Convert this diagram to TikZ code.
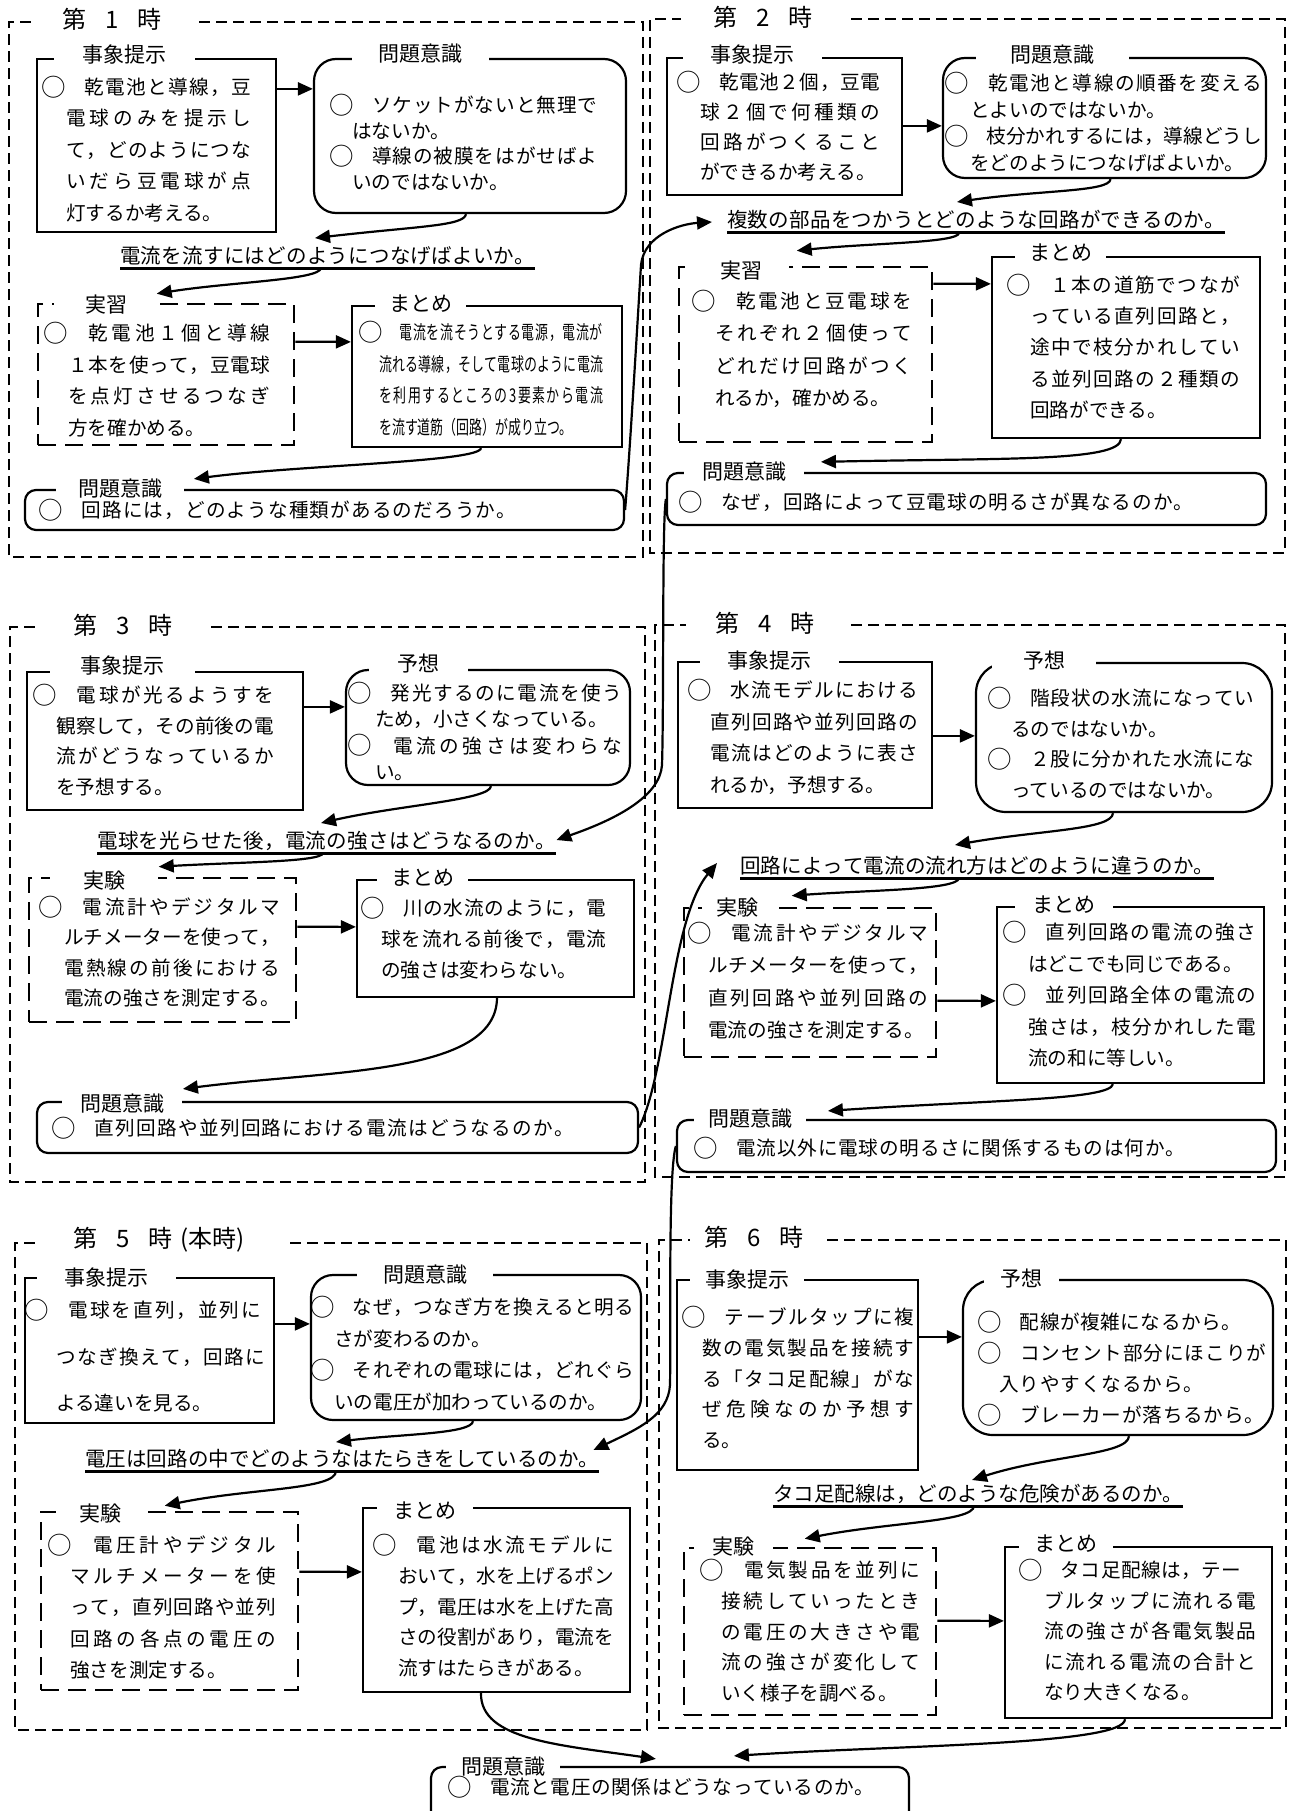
\documentclass[tikz,border=0pt]{standalone}
\usepackage{fontspec}
\setmainfont{Noto Sans CJK JP}
\newfontfamily\condfont[FakeStretch=0.68]{Noto Sans CJK JP}
\usetikzlibrary{arrows.meta,calc,fit}
\makeatletter
\def\sp@end{\sp@end@}
\newcommand\jl[2]{\hbox to #1{\sp@first#2\sp@end}}
\def\sp@first#1{#1\sp@next}
\def\sp@next#1{\ifx\sp@end#1\else\hfil#1\expandafter\sp@next\fi}
\makeatother
\newcommand\LJ[3]{\hbox{\kern#1pt\jl{#2pt}{#3}}}
\newcommand\LN[2]{\hbox{\kern#1pt #2}}
\newcommand\BLK[2]{\vtop{\baselineskip=#1pt\lineskiplimit=-\maxdimen\lineskip=0pt #2}}
\newcommand\cf{\fontsize{19}{24}\condfont}
\newcommand\bul{\makebox[19.6pt][c]{\raisebox{-1.8pt}{\fontsize{24.5}{24}\selectfont ○}}}
\begin{document}
\begin{tikzpicture}[x=1pt,y=-1pt,
 sbox/.style={draw, line width=2.2pt, inner sep=0pt},
 rbox/.style={draw, line width=2.2pt, inner sep=0pt, rounded corners=22pt},
 rboxs/.style={draw, line width=2.2pt, inner sep=0pt, rounded corners=11pt},
 dbox/.style={draw, line width=2.6pt, dash pattern=on 18pt off 9pt, inner sep=0pt},
 pan/.style={line width=2.2pt, dash pattern=on 11pt off 6pt},
 lab/.style={fill=white, inner sep=0pt, minimum height=24pt, font=\fontsize{21}{24}\selectfont},
 txt/.style={inner sep=0pt, anchor=base west, font=\fontsize{19.6}{24}\selectfont},
 qst/.style={inner sep=0pt, anchor=base west, font=\fontsize{20.5}{24}\selectfont},
 ttl/.style={inner sep=0pt, anchor=west, font=\fontsize{24}{28}\selectfont},
 arr/.style={line width=2.2pt, -{Triangle[length=15pt,width=13pt]}},
 ul/.style={line width=3pt}]
\useasboundingbox (0,0) rectangle (1290,1811);

% ---------- panel frames ----------
\draw[pan] (199,22) -- (643,22) -- (643,557) -- (9,557) -- (9,22) -- (35,22);
\draw[pan] (851,19) -- (1285,19) -- (1285,553) -- (650,553) -- (650,19) -- (681,19);
\draw[pan] (211,627) -- (645,627) -- (645,1182) -- (10,1182) -- (10,627) -- (35,627);
\draw[pan] (851,625) -- (1285,625) -- (1285,1177) -- (655,1177) -- (655,625) -- (686,625);
\draw[pan] (290,1243) -- (647,1243) -- (647,1730) -- (15,1730) -- (15,1243) -- (41,1243);
\draw[pan] (827,1240) -- (1286,1240) -- (1286,1728) -- (659,1728) -- (659,1240) -- (690,1240);

\node[ttl] (t1) at (62,19) {第\hspace{.8em}1\hspace{.8em}時};
\node[ttl] (t2) at (713,17) {第\hspace{.8em}2\hspace{.8em}時};
\node[ttl] (t3) at (73,625) {第\hspace{.8em}3\hspace{.8em}時};
\node[ttl] (t4) at (715,623) {第\hspace{.8em}4\hspace{.8em}時};
\node[ttl] (t5) at (73,1240) {第\hspace{.8em}5\hspace{.8em}時\hspace{.3em}(本時)};
\node[ttl] (t6) at (704,1237) {第\hspace{.8em}6\hspace{.8em}時};

% ---------- boxes ----------
\node[sbox, fit={(37,59) (276,232)}] (p1a) {};
\node[rbox, fit={(314,59) (626,213)}] (p1b) {};
\node[dbox, fit={(38,304) (294,445)}] (p1c) {};
\node[sbox, fit={(352,306) (622,447)}] (p1d) {};
\node[rboxs, fit={(25,490) (624,530)}] (p1e) {};

\node[sbox, fit={(667,58) (902,195)}] (p2a) {};
\node[rbox, fit={(943,58) (1266,178)}] (p2b) {};
\node[dbox, fit={(679,267) (932,442)}] (p2c) {};
\node[sbox, fit={(992,257) (1260,438)}] (p2d) {};
\node[rboxs, fit={(667,473) (1266,525)}] (p2e) {};

\node[sbox, fit={(27,672) (303,810)}] (p3a) {};
\node[rbox, fit={(346,670) (630,785)}] (p3b) {};
\node[dbox, fit={(29,878) (296,1022)}] (p3c) {};
\node[sbox, fit={(357,880) (634,997)}] (p3d) {};
\node[rboxs, fit={(37,1102) (638,1153)}] (p3e) {};

\node[sbox, fit={(678,662) (932,808)}] (p4a) {};
\node[rbox, rounded corners=30pt, fit={(976,663) (1272,812)}] (p4b) {};
\node[dbox, fit={(684,908) (936,1057)}] (p4c) {};
\node[sbox, fit={(997,907) (1264,1083)}] (p4d) {};
\node[rboxs, fit={(677,1120) (1276,1172)}] (p4e) {};

\node[sbox, fit={(25,1278) (274,1423)}] (p5a) {};
\node[rbox, fit={(311,1275) (641,1420)}] (p5b) {};
\node[dbox, fit={(41,1512) (298,1690)}] (p5c) {};
\node[sbox, fit={(363,1508) (630,1692)}] (p5d) {};

\node[sbox, fit={(677,1280) (918,1470)}] (p6a) {};
\node[rbox, rounded corners=30pt, fit={(963,1280) (1273,1435)}] (p6b) {};
\node[dbox, fit={(684,1548) (936,1715)}] (p6c) {};
\node[sbox, fit={(1005,1547) (1272,1718)}] (p6d) {};

\node[rboxs, fit={(431,1767) (909,1840)}] (pb) {};

% ---------- labels ----------
\node[lab, minimum width=141pt] (l1a) at (124.5,55) {事象提示};
\node[lab, minimum width=137pt] (l1b) at (420.5,54) {問題意識};
\node[lab, minimum width=104pt] (l1c) at (106,305) {実習};
\node[lab, minimum width=91pt] (l1d) at (420.5,304) {まとめ};
\node[lab, minimum width=128pt] (l1e) at (120,489) {問題意識};

\node[lab, minimum width=139pt] (l2a) at (752.5,55) {事象提示};
\node[lab, minimum width=153pt] (l2b) at (1052.5,55) {問題意識};
\node[lab, minimum width=95pt] (l2c) at (741.5,271) {実習};
\node[lab, minimum width=91pt] (l2d) at (1060.5,253) {まとめ};
\node[lab, minimum width=120pt] (l2e) at (744,472) {問題意識};

\node[lab, minimum width=145pt] (l3a) at (122.5,666) {事象提示};
\node[lab, minimum width=99pt] (l3b) at (418.5,664) {予想};
\node[lab, minimum width=108pt] (l3c) at (104,881) {実験};
\node[lab, minimum width=91pt] (l3d) at (422.5,878) {まとめ};
\node[lab, minimum width=120pt] (l3e) at (122,1104) {問題意識};

\node[lab, minimum width=139pt] (l4a) at (769.5,661) {事象提示};
\node[lab, minimum width=104pt] (l4b) at (1044,661) {予想};
\node[lab, minimum width=71pt] (l4c) at (737.5,908) {実験};
\node[lab, minimum width=98pt] (l4d) at (1064,905) {まとめ};
\node[lab, minimum width=112pt] (l4e) at (750,1119) {問題意識};

\node[lab, minimum width=139pt] (l5a) at (106.5,1277) {事象提示};
\node[lab, minimum width=136pt] (l5b) at (425,1275) {問題意識};
\node[lab, minimum width=89pt] (l5c) at (100.5,1514) {実験};
\node[lab, minimum width=96pt] (l5d) at (425,1511) {まとめ};

\node[lab, minimum width=114pt] (l6a) at (747,1279) {事象提示};
\node[lab, minimum width=75pt] (l6b) at (1021.5,1278) {予想};
\node[lab, minimum width=79pt] (l6c) at (733.5,1547) {実験};
\node[lab, minimum width=94pt] (l6d) at (1066,1544) {まとめ};

\node[lab, minimum width=114pt] (lb) at (503,1767) {問題意識};

% ---------- box texts ----------
\node[txt] (x1a) at (44,94.5) {\BLK{31.5}{%
 \LJ{0}{207}{{\bul　}乾電池と導線，豆}
 \LJ{22}{185}{電球のみを提示し}
 \LJ{22}{185}{て，どのようにつな}
 \LJ{22}{185}{いだら豆電球が点}
 \LN{22}{灯するか考える。}}};
\node[txt] (x1b) at (332,112.5) {\BLK{25.7}{%
 \LJ{0}{265}{{\bul　}ソケットがないと無理で}
 \LN{20}{はないか。}
 \LJ{0}{265}{{\bul　}導線の被膜をはがせばよ}
 \LN{20}{いのではないか。}}};
\node[txt] (x1c) at (46,340.5) {\BLK{31.7}{%
 \LJ{0}{224}{{\bul　}乾電池１個と導線}
 \LJ{22}{202}{１本を使って，豆電球}
 \LJ{22}{202}{を点灯させるつなぎ}
 \LN{22}{方を確かめる。}}};
\node[txt] (x1d) at (361,339.5) {\BLK{31.7}{%
 \hbox{\bul\kern19pt{\cf\jl{203pt}{電流を流そうとする電源，電流が}}}
 \hbox{\kern18pt{\cf\jl{224pt}{流れる導線，そして電球のように電流}}}
 \hbox{\kern18pt{\cf\jl{224pt}{を利用するところの3要素から電流}}}
 \hbox{\kern18pt{\cf を流す道筋（回路）が成り立つ。}}}};
\node[txt] (x1e) at (41,517.5) {\LJ{0}{475}{{\bul　}回路には，どのような種類があるのだろうか。}};

\node[txt] (x2a) at (679,89.5) {\BLK{30}{%
 \LJ{0}{201}{{\bul　}乾電池２個，豆電}
 \LJ{21}{180}{球２個で何種類の}
 \LJ{21}{180}{回路がつくること}
 \LN{21}{ができるか考える。}}};
\node[txt] (x2b) at (947,90.5) {\BLK{26.7}{%
 \LJ{0}{315}{{\bul　}乾電池と導線の順番を変える}
 \LN{23}{とよいのではないか。}
 \LJ{0}{315}{{\bul　}枝分かれするには，導線どうし}
 \LN{23}{をどのようにつなげばよいか。}}};
\node[txt] (x2c) at (694,308.5) {\BLK{32.3}{%
 \LJ{0}{218}{{\bul　}乾電池と豆電球を}
 \LJ{21}{197}{それぞれ２個使って}
 \LJ{21}{197}{どれだけ回路がつく}
 \LN{21}{れるか，確かめる。}}};
\node[txt] (x2d) at (1009,292.5) {\BLK{31.2}{%
 \LJ{0}{231}{{\bul　}１本の道筋でつなが}
 \LJ{21}{210}{っている直列回路と，}
 \LJ{21}{210}{途中で枝分かれしてい}
 \LJ{21}{210}{る並列回路の２種類の}
 \LN{21}{回路ができる。}}};
\node[txt] (x2e) at (681,509.5) {\LJ{0}{512}{{\bul　}なぜ，回路によって豆電球の明るさが異なるのか。}};

\node[txt] (x3a) at (35,702.5) {\BLK{30.7}{%
 \LJ{0}{239}{{\bul　}電球が光るようすを}
 \LJ{21}{218}{観察して，その前後の電}
 \LJ{21}{218}{流がどうなっているか}
 \LN{21}{を予想する。}}};
\node[txt] (x3b) at (350,700.5) {\BLK{26.3}{%
 \LJ{0}{272}{{\bul　}発光するのに電流を使う}
 \LN{25}{ため，小さくなっている。}
 \LJ{0}{272}{{\bul　}電流の強さは変わらな}
 \LN{25}{い。}}};
\node[txt] (x3c) at (41,914.5) {\BLK{30.3}{%
 \LJ{0}{239}{{\bul　}電流計やデジタルマ}
 \LJ{23}{216}{ルチメーターを使って，}
 \LJ{23}{216}{電熱線の前後における}
 \LN{23}{電流の強さを測定する。}}};
\node[txt] (x3d) at (363,915.5) {\BLK{31}{%
 \LJ{0}{243}{{\bul　}川の水流のように，電}
 \LJ{18}{225}{球を流れる前後で，電流}
 \LN{18}{の強さは変わらない。}}};
\node[txt] (x3e) at (54,1135.5) {\LJ{0}{520}{{\bul　}直列回路や並列回路における電流はどうなるのか。}};

\node[txt] (x4a) at (690,697.5) {\BLK{31.7}{%
 \LJ{0}{228}{{\bul　}水流モデルにおける}
 \LJ{20}{208}{直列回路や並列回路の}
 \LJ{20}{208}{電流はどのように表さ}
 \LN{20}{れるか，予想する。}}};
\node[txt] (x4b) at (990,705.5) {\BLK{30.7}{%
 \LJ{0}{264}{{\bul　}階段状の水流になってい}
 \LN{21}{るのではないか。}
 \LJ{0}{264}{{\bul　}２股に分かれた水流にな}
 \LN{21}{っているのではないか。}}};
\node[txt] (x4c) at (690,940.5) {\BLK{32.3}{%
 \LJ{0}{238}{{\bul　}電流計やデジタルマ}
 \LJ{18}{220}{ルチメーターを使って，}
 \LJ{18}{220}{直列回路や並列回路の}
 \LN{18}{電流の強さを測定する。}}};
\node[txt] (x4d) at (1005,939.5) {\BLK{31.5}{%
 \LJ{0}{251}{{\bul　}直列回路の電流の強さ}
 \LN{23}{はどこでも同じである。}
 \LJ{0}{251}{{\bul　}並列回路全体の電流の}
 \LJ{23}{228}{強さは，枝分かれした電}
 \LN{23}{流の和に等しい。}}};
\node[txt] (x4e) at (696,1155.5) {\LJ{0}{489}{{\bul　}電流以外に電球の明るさに関係するものは何か。}};

\node[txt] (x5a) at (27,1317.5) {\BLK{46.5}{%
 \LJ{0}{234}{{\bul　}電球を直列，並列に}
 \LJ{29}{209}{つなぎ換えて，回路に}
 \LN{29}{よる違いを見る。}}};
\node[txt] (x5b) at (313,1314.5) {\BLK{31.7}{%
 \LJ{0}{321}{{\bul　}なぜ，つなぎ方を換えると明る}
 \LN{21}{さが変わるのか。}
 \LJ{0}{321}{{\bul　}それぞれの電球には，どれぐら}
 \LN{21}{いの電圧が加わっているのか。}}};
\node[txt] (x5c) at (50,1552.5) {\BLK{31.2}{%
 \LJ{0}{226}{{\bul　}電圧計やデジタル}
 \LJ{20}{206}{マルチメーターを使}
 \LJ{20}{206}{って，直列回路や並列}
 \LJ{20}{206}{回路の各点の電圧の}
 \LN{20}{強さを測定する。}}};
\node[txt] (x5d) at (375,1552.5) {\BLK{30.75}{%
 \LJ{0}{239}{{\bul　}電池は水流モデルに}
 \LJ{23}{216}{おいて，水を上げるポン}
 \LJ{23}{216}{プ，電圧は水を上げた高}
 \LJ{23}{216}{さの役割があり，電流を}
 \LN{23}{流すはたらきがある。}}};

\node[txt] (x6a) at (684,1324.5) {\BLK{30.75}{%
 \LJ{0}{230}{{\bul　}テーブルタップに複}
 \LJ{18}{212}{数の電気製品を接続す}
 \LJ{18}{212}{る「タコ足配線」がな}
 \LJ{18}{212}{ぜ危険なのか予想す}
 \LN{18}{る。}}};
\node[txt] (x6b) at (980,1329.5) {\BLK{31}{%
 \LJ{0}{261}{{\bul　}配線が複雑になるから。}
 \LJ{0}{286}{{\bul　}コンセント部分にほこりが}
 \LJ{19}{204}{入りやすくなるから。}
 \LJ{0}{284}{{\bul　}ブレーカーが落ちるから。}}};
\node[txt] (x6c) at (702,1577.5) {\BLK{30.75}{%
 \LJ{0}{218}{{\bul　}電気製品を並列に}
 \LJ{19}{199}{接続していったとき}
 \LJ{19}{199}{の電圧の大きさや電}
 \LJ{19}{199}{流の強さが変化して}
 \LN{19}{いく様子を調べる。}}};
\node[txt] (x6d) at (1021,1577.5) {\BLK{30.5}{%
 \LJ{0}{220}{{\bul　}タコ足配線は，テー}
 \LJ{23}{212}{ブルタップに流れる電}
 \LJ{23}{212}{流の強さが各電気製品}
 \LJ{23}{212}{に流れる電流の合計と}
 \LN{23}{なり大きくなる。}}};

\node[txt] (xb) at (450,1794.5) {\LJ{0}{424}{{\bul　}電流と電圧の関係はどうなっているのか。}};

% ---------- questions ----------
\node[qst] (q1) at (120,263) {\jl{415pt}{電流を流すにはどのようにつなげばよいか。}};
\node[qst] (q2) at (727,228) {\jl{498pt}{複数の部品をつかうとどのような回路ができるのか。}};
\node[qst] (q3) at (97,848) {\jl{459pt}{電球を光らせた後，電流の強さはどうなるのか。}};
\node[qst] (q4) at (740,873) {\jl{474pt}{回路によって電流の流れ方はどのように違うのか。}};
\node[qst] (q5) at (85,1466) {\jl{514pt}{電圧は回路の中でどのようなはたらきをしているのか。}};
\node[qst] (q6) at (773,1501) {\jl{410pt}{タコ足配線は，どのような危険があるのか。}};
\foreach \q in {q1,q2,q3,q4,q5,q6}
 \draw[ul] ($(\q.base west)+(0,5)$) -- ($(\q.base east)+(0,5)$);

% ---------- connectors ----------
% panel 1
\draw[arr] ($(p1a.north east)+(0,31)$) -- ($(p1b.north west)+(0,31)$);
\draw[arr] ($(p1b.south)+(-4,0)$) .. controls (464,226) and (420,226) .. ($(q1.base west)+(195,-25)$);
\draw[arr] ($(q1.base west)+(201,5)$) .. controls (320,280) and (230,282) .. ($(p1c.north west)+(120,-9)$);
\draw[arr] ($(p1c.north east)+(0,39)$) -- ($(p1d.north west)+(0,37)$);
\draw[arr] ($(p1d.south)+(-6,0)$) .. controls (480,462) and (300,465) .. ($(p1e.north west)+(170,-10)$);
\draw[arr] (p1e.east) .. controls (630,450) and (637,330) .. (641,265) .. controls (644,235) and (680,224) .. ($(q2.base west)+(-15,-6)$);
% panel 2
\draw[arr] ($(p2a.north east)+(0,69)$) -- ($(p2b.north west)+(0,69)$);
\draw[arr] ($(p2b.south)+(6,0)$) .. controls (1110,192) and (1040,190) .. ($(q2.base west)+(230,-26)$);
\draw[arr] ($(q2.base west)+(232,5)$) .. controls (958,243) and (870,243) .. ($(p2c.north west)+(119,-15)$);
\draw[arr] ($(p2c.north east)+(0,18)$) -- ($(p2d.north west)+(0,28)$);
\draw[arr] ($(p2d.south)+(-5,0)$) .. controls (1120,462) and (1000,458) .. ($(p2e.north west)+(155,-10)$);
\draw[arr] (p2e.west) .. controls (662,520) and (664,700) .. (662,765) .. controls (660,795) and (620,818) .. ($(q3.base east)+(0,-8)$);
% panel 3
\draw[arr] ($(p3a.north east)+(0,36)$) -- ($(p3b.north west)+(0,38)$);
\draw[arr] ($(p3b.south)+(3,0)$) .. controls (490,800) and (400,805) .. ($(q3.base west)+(224,-25)$);
\draw[arr] ($(q3.base west)+(226,5)$) .. controls (322,862) and (240,862) .. ($(p3c.north west)+(131,-10)$);
\draw[arr] ($(p3c.north east)+(0,50)$) -- ($(p3d.north west)+(0,48)$);
\draw[arr] ($(p3d.south)+(1.5,0)$) .. controls (496,1075) and (330,1070) .. ($(p3e.north west)+(147,-12)$);
\draw[arr] (p3e.east) .. controls (668,1070) and (670,920) .. ($(q4.base west)+(-23,-10)$);
% panel 4
\draw[arr] ($(p4a.north east)+(0,75)$) -- ($(p4b.north west)+(0,74)$);
\draw[arr] ($(p4b.south)+(-11,0)$) .. controls (1112,830) and (1040,830) .. ($(q4.base west)+(215,-28)$);
\draw[arr] ($(q4.base west)+(219,5)$) .. controls (958,890) and (870,890) .. ($(p4c.north west)+(109,-11)$);
\draw[arr] ($(p4c.north east)+(0,94)$) -- ($(p4d.north west)+(0,95)$);
\draw[arr] ($(p4d.south)+(-17.5,0)$) .. controls (1110,1100) and (990,1100) .. ($(p4e.north west)+(152,-8)$);
\draw[arr] (p4e.west) .. controls (668,1170) and (671,1330) .. (670,1385) .. controls (668,1415) and (640,1428) .. ($(q5.base east)+(-6,-16)$);
% panel 5
\draw[arr] ($(p5a.north east)+(0,47)$) -- ($(p5b.north west)+(0,50)$);
\draw[arr] ($(p5b.south)+(-3,0)$) .. controls (472,1434) and (400,1434) .. ($(q5.base west)+(251,-24)$);
\draw[arr] ($(q5.base west)+(251,5)$) .. controls (336,1490) and (250,1488) .. ($(p5c.north west)+(125,-5)$);
\draw[arr] ($(p5c.north east)+(0,61)$) -- ($(p5d.north west)+(0,65)$);
\draw[arr] ($(p5d.south)+(-15.5,0)$) .. controls (480,1740) and (560,1745) .. ($(pb.north west)+(226,-7)$);
% panel 6
\draw[arr] ($(p6a.north east)+(0,58)$) -- ($(p6b.north west)+(0,58)$);
\draw[arr] ($(p6b.south)+(11,0)$) .. controls (1128,1455) and (1050,1455) .. ($(q6.base west)+(199,-21)$);
\draw[arr] ($(q6.base west)+(201,5)$) .. controls (973,1522) and (890,1522) .. ($(p6c.north west)+(122,-8)$);
\draw[arr] ($(p6c.north east)+(0,74)$) -- ($(p6d.north west)+(0,75)$);
\draw[arr] ($(p6d.south)+(-13.5,0)$) .. controls (1125,1745) and (900,1745) .. ($(pb.north west)+(304,-10)$);
\end{tikzpicture}
\end{document}
